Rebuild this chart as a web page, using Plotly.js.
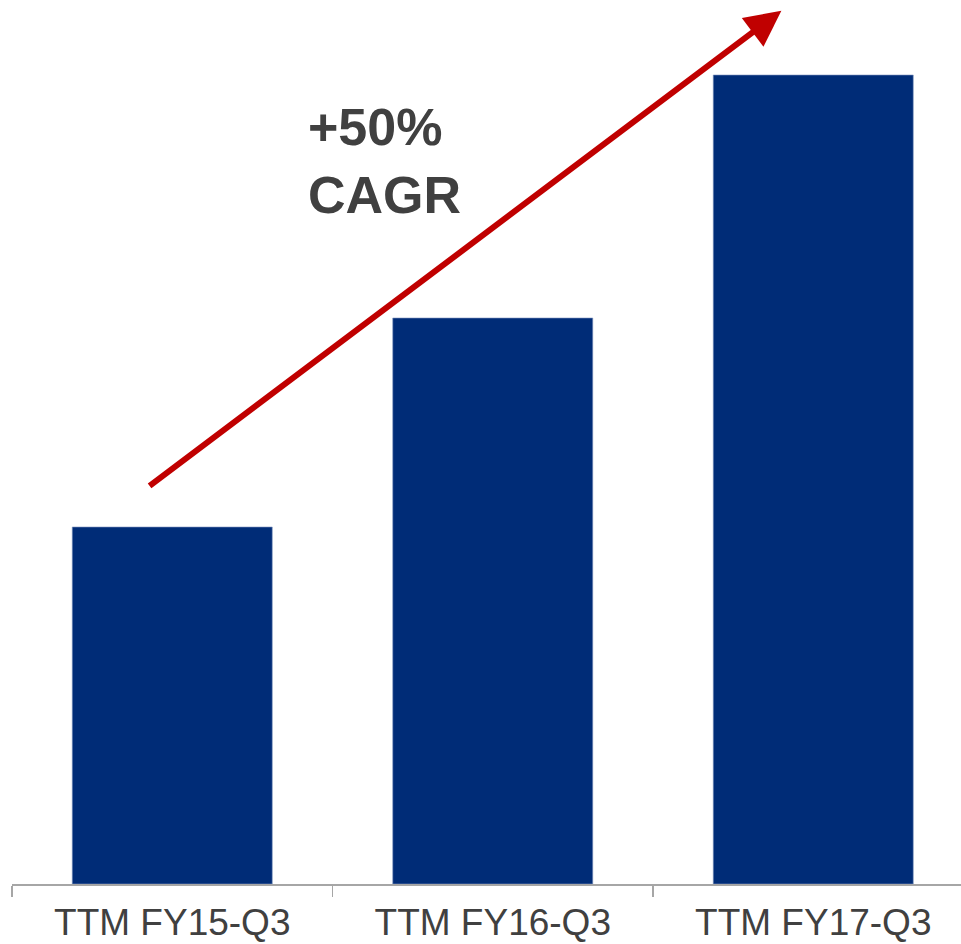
<!DOCTYPE html>
<html>
<head>
<meta charset="utf-8">
<script src="https://cdn.plot.ly/plotly-3.0.1.min.js"></script>
<style>
  html, body { margin: 0; padding: 0; background: #ffffff; }
  #chart { width: 961px; height: 944px; }
</style>
</head>
<body>
<div id="chart"></div>
<script>
// Data (relative values)
const categories = ["TTM FY15-Q3", "TTM FY16-Q3", "TTM FY17-Q3"];
const values = [357, 566, 809];
const growthLabel = "+50%<br>CAGR";

const barColor = "#002C77";
const arrowColor = "#C00000";
const textColor = "#404040";

const trace = {
  type: "bar",
  x: categories,
  y: values,
  width: 0.624,
  marker: { color: barColor, line: { color: "#7f95c0", width: 0.6 } },
  hoverinfo: "x+y"
};

const layout = {
  width: 961,
  height: 944,
  margin: { l: 12, r: 0, t: 0, b: 60 },
  paper_bgcolor: "#ffffff",
  plot_bgcolor: "#ffffff",
  showlegend: false,
  font: { family: "Liberation Sans, Arial, sans-serif", color: textColor },
  xaxis: {
    type: "category",
    range: [-0.5, 2.461],
    showline: true,
    linecolor: "#a6a6a6",
    linewidth: 1.5,
    ticks: "outside",
    tickson: "boundaries",
    ticklen: 11,
    tickwidth: 1.5,
    tickcolor: "#a6a6a6",
    ticklabelstandoff: 5,
    tickfont: { family: "Liberation Sans, Arial, sans-serif", size: 37, color: textColor },
    showgrid: false,
    zeroline: false,
    fixedrange: true
  },
  yaxis: {
    range: [0, 884],
    visible: false,
    showgrid: false,
    zeroline: false,
    fixedrange: true
  },
  annotations: [
    {
      // growth arrow
      xref: "x", yref: "y", axref: "x", ayref: "y",
      x: 1.9006, y: 873.3,
      ax: -0.0754, ay: 397,
      text: "",
      showarrow: true,
      arrowhead: 2,
      arrowsize: 1.2,
      arrowwidth: 6,
      arrowcolor: arrowColor,
      standoff: 0
    },
    {
      xref: "paper", yref: "paper",
      x: (306 - 12) / 949, y: 1 - (96 / 884),
      xanchor: "left", yanchor: "top",
      align: "left",
      text: "<b>" + growthLabel + "</b>",
      showarrow: false,
      font: { family: "Liberation Sans, Arial, sans-serif", size: 52, color: textColor }
    }
  ]
};

Plotly.newPlot("chart", [trace], layout, { displayModeBar: false, staticPlot: true });
</script>
</body>
</html>
